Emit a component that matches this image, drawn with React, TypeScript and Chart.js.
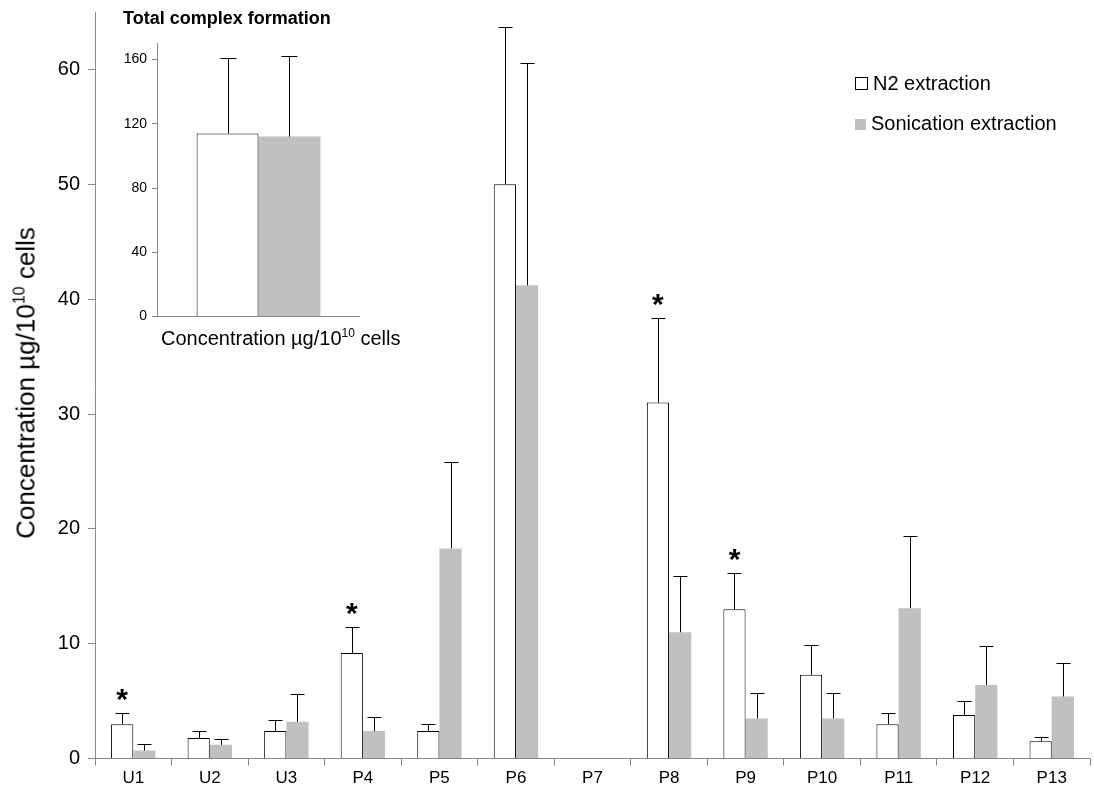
import React, { useEffect, useRef } from "react";
import { Chart, registerables } from "chart.js";
Chart.register(...registerables);

const categories = ["U1","U2","U3","P4","P5","P6","P7","P8","P9","P10","P11","P12","P13"];
const n2Values = [3.0,1.8,2.4,9.2,2.4,50.0,0,31.0,13.0,7.3,3.0,3.8,1.5];
const n2ErrTop = [4.0,2.4,3.4,11.5,3.0,63.7,0,38.4,16.2,9.9,4.0,5.0,1.9];
const sonValues = [0.7,1.2,3.2,2.4,18.3,41.2,0,11.0,3.5,3.5,13.1,6.4,5.4];
const sonErrTop = [1.3,1.7,5.6,3.6,25.8,60.6,0,15.9,5.7,5.7,19.4,9.8,8.3];
const starred = [0,3,7,8];
const insetValues = [114, 112];
const insetErrTop = [161, 162];
const yTicksMain = [0,10,20,30,40,50,60];
const yTicksInset = [0,40,80,120,160];

const FONT = "Arial, 'Liberation Sans', sans-serif";

const errPlugin = (errs: number[][], stars: number[], cap: number) => ({
  id: "err",
  afterDatasetsDraw(chart: any) {
    const ctx = chart.ctx;
    const y = chart.scales.y;
    ctx.save();
    ctx.strokeStyle = "#000";
    ctx.lineWidth = 1;
    errs.forEach((arr, di) => {
      const meta = chart.getDatasetMeta(di);
      meta.data.forEach((bar: any, i: number) => {
        if (!arr[i]) return;
        const x = Math.round(bar.x) + 0.5;
        const yt = Math.round(y.getPixelForValue(arr[i])) + 0.5;
        ctx.beginPath();
        ctx.moveTo(x, bar.y);
        ctx.lineTo(x, yt);
        ctx.moveTo(x - cap, yt);
        ctx.lineTo(x + cap, yt);
        ctx.stroke();
      });
    });
    ctx.fillStyle = "#000";
    ctx.font = "bold 30px " + FONT;
    ctx.textAlign = "center";
    const meta = chart.getDatasetMeta(0);
    stars.forEach((i) => {
      const bar = meta.data[i];
      const yt = y.getPixelForValue(errs[0][i]);
      ctx.fillText("*", bar.x, yt - 4);
    });
    ctx.restore();
  },
});

export default function App() {
  const mainRef = useRef<HTMLCanvasElement>(null);
  const insetRef = useRef<HTMLCanvasElement>(null);
  useEffect(() => {
    const main = new Chart(mainRef.current!, {
      type: "bar",
      data: {
        labels: categories,
        datasets: [
          { data: n2Values, backgroundColor: "#fff", borderColor: "#000", borderWidth: 1, borderSkipped: "bottom" },
          { data: sonValues, backgroundColor: "#c0c0c0", borderWidth: 0 },
        ],
      },
      options: {
        animation: false, responsive: false,
        layout: { padding: { top: 3, right: 4, left: 0, bottom: 0 } },
        datasets: { bar: { categoryPercentage: 0.58, barPercentage: 1 } },
        plugins: { legend: { display: false }, tooltip: { enabled: false } },
        scales: {
          x: {
            offset: true,
            grid: { offset: true, drawOnChartArea: false, drawTicks: true, tickLength: 7, color: "#888" },
            border: { color: "#888" },
            ticks: { color: "#000", font: { size: 17, family: FONT }, padding: 3 },
          },
          y: {
            min: 0, max: 65,
            afterFit: (s: any) => { s.width = 61; },
            afterBuildTicks: (s: any) => { s.ticks = yTicksMain.map((v) => ({ value: v })); },
            grid: { drawOnChartArea: false, tickLength: 7, color: "#888" },
            border: { color: "#888" },
            ticks: { color: "#000", font: { size: 20, family: FONT }, padding: 8 },
          },
        },
      },
      plugins: [errPlugin([n2ErrTop, sonErrTop], starred, 7)],
    });
    const inset = new Chart(insetRef.current!, {
      type: "bar",
      data: {
        labels: ["x"],
        datasets: [
          { data: [insetValues[0]], backgroundColor: "#fff", borderColor: "#000", borderWidth: 1, borderSkipped: "bottom" },
          { data: [insetValues[1]], backgroundColor: "#c0c0c0", borderWidth: 0 },
        ],
      },
      options: {
        animation: false, responsive: false,
        layout: { padding: 0 },
        datasets: { bar: { categoryPercentage: 0.61, barPercentage: 1 } },
        plugins: { legend: { display: false }, tooltip: { enabled: false } },
        scales: {
          x: {
            grid: { display: false },
            border: { color: "#888" },
            ticks: { display: false },
          },
          y: {
            min: 0, max: 170,
            afterFit: (s: any) => { s.width = 47; },
            afterBuildTicks: (s: any) => { s.ticks = yTicksInset.map((v) => ({ value: v })); },
            grid: { drawOnChartArea: false, tickLength: 5, color: "#888" },
            border: { color: "#888" },
            ticks: { color: "#000", font: { size: 14, family: FONT }, padding: 5 },
          },
        },
      },
      plugins: [errPlugin([[insetErrTop[0]], [insetErrTop[1]]], [], 8)],
    });
    return () => { main.destroy(); inset.destroy(); };
  }, []);

  return (
    <div style={{ position: "absolute", left: 0, top: 0, width: 1094, height: 795, background: "#fff", fontFamily: FONT, overflow: "hidden" }}>
      <canvas ref={mainRef} width={1060} height={800} style={{ position: "absolute", left: 34, top: -8 }} />
      <div style={{ position: "absolute", left: 26, top: 383, transform: "translate(-50%,-50%) rotate(-90deg)", fontSize: 26, whiteSpace: "nowrap" }}>
        Concentration µg/10<sup style={{ fontSize: 16 }}>10</sup> cells
      </div>
      <canvas ref={insetRef} width={250} height={300} style={{ position: "absolute", left: 110, top: 30 }} />
      <div style={{ position: "absolute", left: 123, top: 8, fontSize: 18, fontWeight: "bold" }}>Total complex formation</div>
      <div style={{ position: "absolute", left: 161, top: 326, fontSize: 20, whiteSpace: "nowrap" }}>
        Concentration µg/10<sup style={{ fontSize: 12 }}>10</sup> cells
      </div>
      <div style={{ position: "absolute", left: 855, top: 63, fontSize: 20, lineHeight: "40px" }}>
        <div><span style={{ display: "inline-block", width: 11, height: 11, border: "1px solid #000", marginRight: 5 }} />N2 extraction</div>
        <div><span style={{ display: "inline-block", width: 11, height: 11, background: "#c0c0c0", marginRight: 5 }} />Sonication extraction</div>
      </div>
    </div>
  );
}
